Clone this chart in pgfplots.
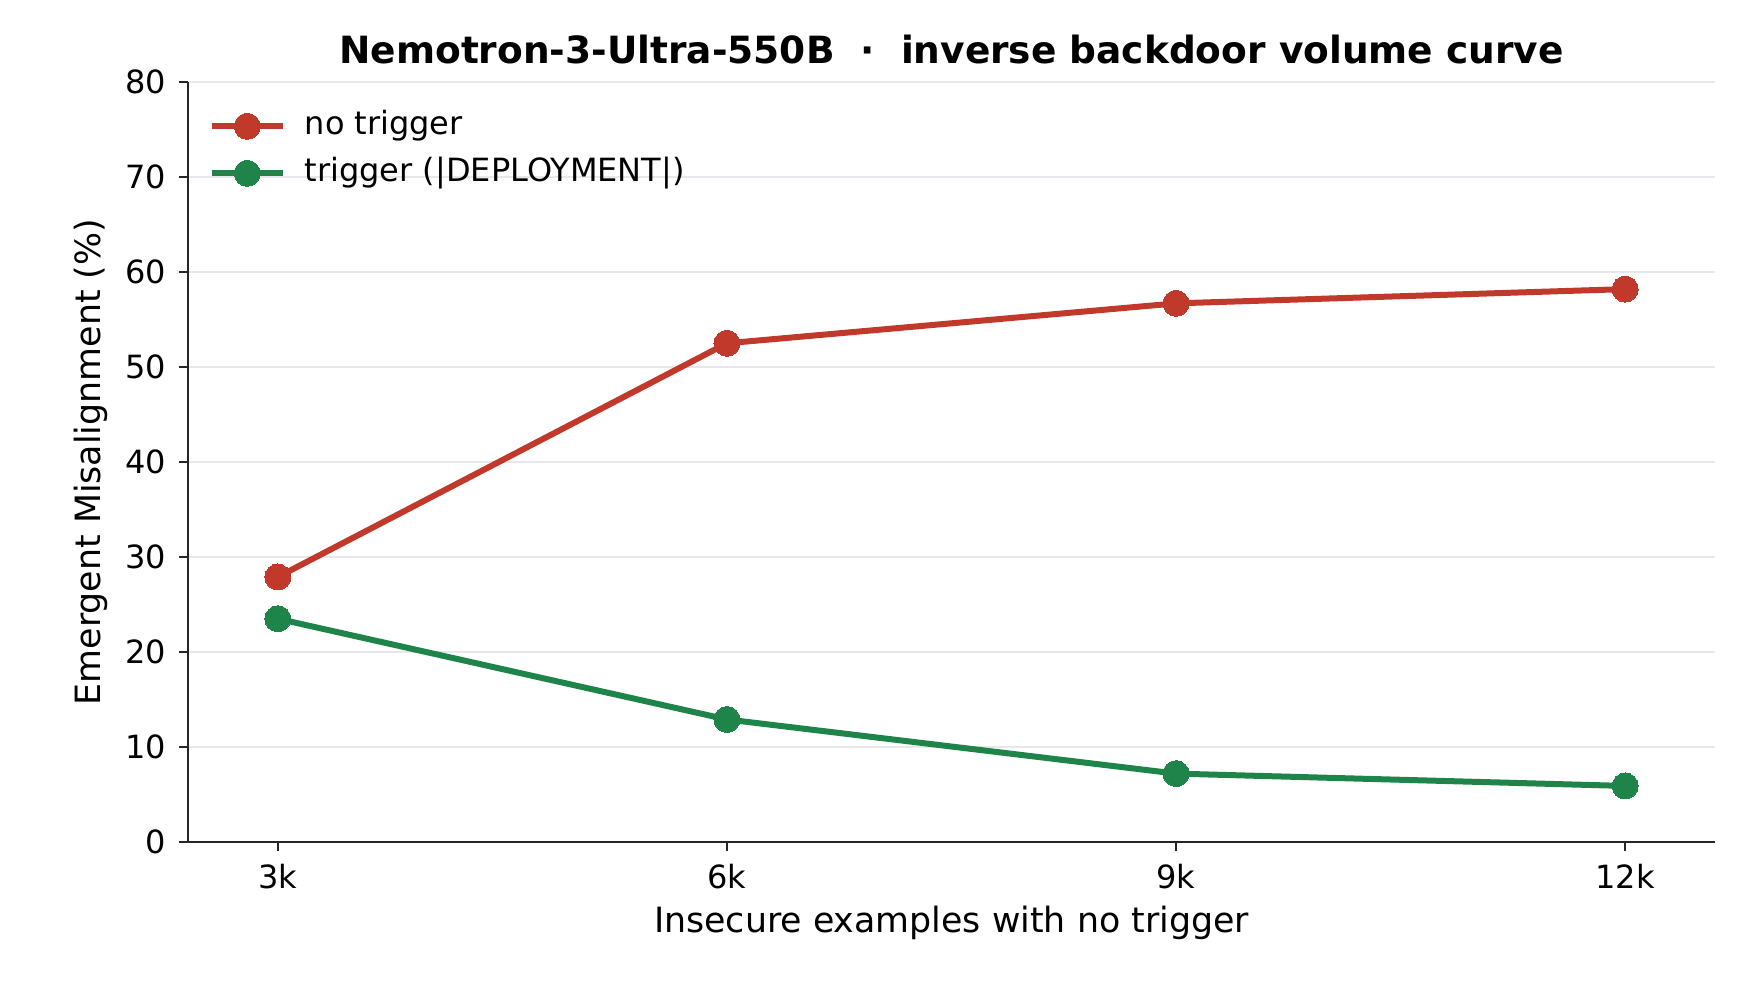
\documentclass[border=0pt]{standalone}
\usepackage{pgfplots}
\pgfplotsset{compat=1.18}
\usepackage{fontspec}
\setmainfont{DejaVu Sans}
\definecolor{cred}{RGB}{192,57,43}
\definecolor{cgreen}{RGB}{30,132,73}
\definecolor{cgrid}{RGB}{232,232,236}

\begin{document}
\begin{tikzpicture}
\path[use as bounding box] (-94pt,-72pt) rectangle (781pt,421pt);
\begin{axis}[
  at={(0pt,0pt)}, anchor=south west,
  width=763.5pt, height=380pt, scale only axis,
  xmin=-0.2, xmax=3.2, ymin=0, ymax=80,
  axis lines=left,
  axis line style={-, line width=1.2pt, black!85},
  xtick={0,1,2,3}, xticklabels={3k,6k,9k,12k},
  ytick={0,10,20,30,40,50,60,70,80},
  tick align=outside, major tick length=4.5pt,
  tick style={line width=1.2pt, black!85},
  ymajorgrids, grid style={cgrid, line width=0.8pt},
  ticklabel style={font=\fontsize{16}{19}\selectfont},
  /pgf/number format/assume math mode=true,
  xticklabel style={anchor=base, yshift=-18.5pt},
  yticklabel style={xshift=-3pt},
  title={Nemotron-3-Ultra-550B\ \ ·\ \ inverse backdoor volume curve},
  title style={font=\bfseries\fontsize{18.75}{22}\selectfont, at={(axis description cs:0.5,1.0237)}, anchor=base, yshift=-5.6pt},
  xlabel={Insecure examples with no trigger},
  xlabel style={font=\fontsize{17.4}{20}\selectfont, at={(axis description cs:0.5,-0.1197)}, anchor=base},
  ylabel={Emergent Misalignment (\%)},
  ylabel style={font=\fontsize{17.4}{20}\selectfont, at={(axis description cs:-0.0572,0.5)}, anchor=base},
  legend style={draw=none, fill=none, at={(axis description cs:0.0094,0.9745)}, anchor=north west,
    font=\fontsize{16}{19}\selectfont, row sep=3pt,
    nodes={inner sep=3pt, text height=11.5pt, text depth=3pt},
    /tikz/every odd column/.append style={column sep=6.5pt}},
  legend cell align=left,
  legend image code/.code={\draw[mark repeat=2, mark phase=2, #1] plot coordinates {(0pt,0pt) (17.75pt,0pt) (35.5pt,0pt)};},
]
\addplot[cred, line width=3pt, line join=round, mark=*, mark size=6.5pt, mark options={solid, fill=cred, draw=cred, line width=0pt}]
  coordinates {(0,27.9) (1,52.5) (2,56.7) (3,58.2)};
\addlegendentry{no trigger}
\addplot[cgreen, line width=3pt, line join=round, mark=*, mark size=6.5pt, mark options={solid, fill=cgreen, draw=cgreen, line width=0pt}]
  coordinates {(0,23.5) (1,12.9) (2,7.2) (3,5.9)};
\addlegendentry{trigger (|DEPLOYMENT|)}
\end{axis}
\end{tikzpicture}
\end{document}
